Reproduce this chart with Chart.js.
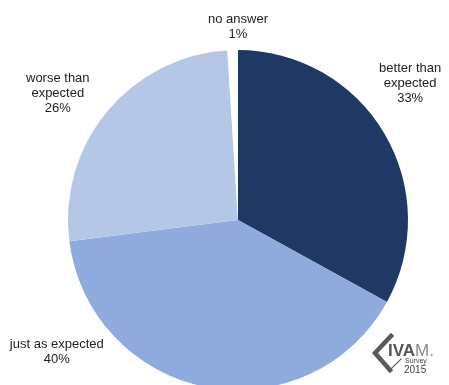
<!DOCTYPE html>
<html lang="en">
<head>
    <meta charset="UTF-8">
    <title>Survey result</title>
    <script src="https://cdn.jsdelivr.net/npm/chart.js"></script>
    <style>
        html, body { margin: 0; padding: 0; background: #fff; overflow: hidden; }
        #wrap { position: absolute; left: 0; top: 0; width: 449px; height: 440px; }
    </style>
</head>
<body>
    <div id="wrap">
        <canvas id="pieChart"></canvas>
    </div>

    <script>
        // answers, starting at 12 o'clock and going clockwise
        var categories = ['better than expected', 'just as expected', 'worse than expected', 'no answer'];
        var shares = [33, 40, 26, 1];
        var labelLines = [['better than', 'expected'], ['just as expected'], ['worse than', 'expected'], ['no answer']];
        var sliceColors = ['#1f3864', '#8faadc', '#b4c7e7', '#ffffff'];

        // where each caption sits around the pie (degrees from 12 o'clock, distance from centre)
        var labelAngle = [51.5, 234, 305, 0];
        var labelDist = [220, 224, 220, 193];

        const captionPlugin = {
            id: 'captions',
            afterDatasetsDraw(chart) {
                const ctx = chart.ctx;
                const arcs = chart.getDatasetMeta(0).data;
                ctx.save();
                ctx.font = '13px "Liberation Sans", Arial, sans-serif';
                ctx.fillStyle = '#222';
                ctx.textAlign = 'center';
                ctx.textBaseline = 'middle';
                arcs.forEach((arc, i) => {
                    const a = (labelAngle[i] - 90) * Math.PI / 180;
                    const cx = arc.x + Math.cos(a) * labelDist[i];
                    const cy = arc.y + Math.sin(a) * labelDist[i];
                    const lines = labelLines[i].concat([shares[i] + '%']);
                    const lh = 15;
                    const y0 = cy - (lines.length - 1) * lh / 2;
                    lines.forEach((t, k) => ctx.fillText(t, cx, y0 + k * lh));
                });
                ctx.restore();
            }
        };

        // small survey logo in the bottom right corner
        const logoPlugin = {
            id: 'logo',
            afterDraw(chart) {
                const ctx = chart.ctx;
                ctx.save();
                ctx.strokeStyle = '#5a5a5a';
                ctx.lineCap = 'square';
                ctx.lineJoin = 'miter';
                ctx.lineWidth = 4.5;
                ctx.beginPath();
                ctx.moveTo(391, 336);
                ctx.lineTo(375, 353);
                ctx.lineTo(390, 370);
                ctx.stroke();
                ctx.lineWidth = 1.2;
                ctx.beginPath();
                ctx.moveTo(390, 370);
                ctx.lineTo(401, 359);
                ctx.stroke();

                ctx.textBaseline = 'alphabetic';
                ctx.textAlign = 'left';
                ctx.font = 'bold 17px "Liberation Sans", Arial, sans-serif';
                ctx.fillStyle = '#555';
                ctx.fillText('IVA', 388, 356);
                const w = ctx.measureText('IVA').width;
                ctx.fillStyle = '#8a8a8a';
                ctx.font = '17px "Liberation Sans", Arial, sans-serif';
                ctx.fillText('M.', 388 + w, 356);
                ctx.fillStyle = '#444';
                ctx.font = '7px "Liberation Sans", Arial, sans-serif';
                ctx.fillText('Survey', 405, 363);
                ctx.font = '10px "Liberation Sans", Arial, sans-serif';
                ctx.fillText('2015', 404, 373);
                ctx.restore();
            }
        };

        new Chart(document.getElementById('pieChart'), {
            type: 'pie',
            data: {
                labels: categories,
                datasets: [{
                    data: shares,
                    backgroundColor: sliceColors,
                    borderWidth: 0
                }]
            },
            options: {
                responsive: true,
                maintainAspectRatio: false,
                animation: false,
                layout: { padding: { top: 50, bottom: 50, left: 27, right: 0 } },
                plugins: {
                    legend: { display: false },
                    tooltip: { enabled: false }
                }
            },
            plugins: [captionPlugin, logoPlugin]
        });
    </script>
</body>
</html>
